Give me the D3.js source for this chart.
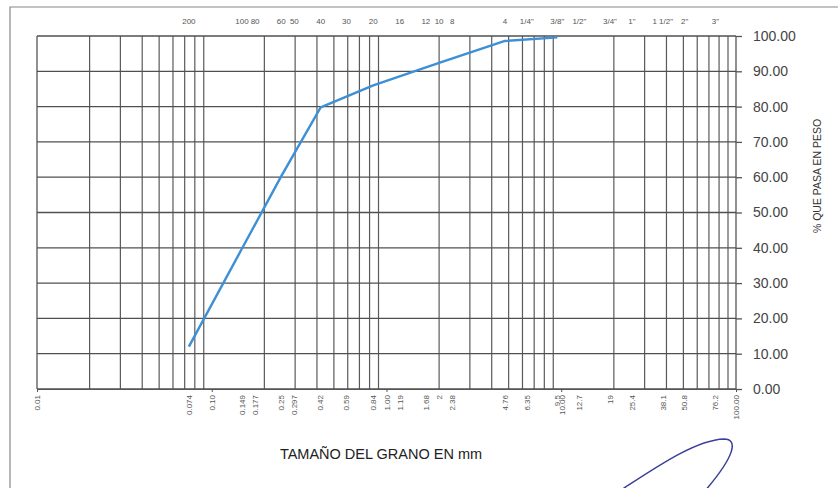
<!DOCTYPE html>
<html>
<head>
<meta charset="utf-8">
<script src="https://cdn.jsdelivr.net/npm/d3@7"></script>
<style>
  body { margin: 0; background: #fff; }
  text { font-family: "Liberation Sans", Arial, sans-serif; }
</style>
</head>
<body>
<script>
const w = 838;
const h = 488;
const margin = { left: 37, right: 102, top: 36, bottom: 99 };

// curva granulometrica
const sieveSizes = [0.074, 0.149, 0.25, 0.42, 0.84, 2.0, 4.76, 9.5];
const percentPassing = [12.0, 39.8, 60.3, 79.8, 86.0, 92.4, 98.6, 99.6];

// tamices (arriba) y aberturas en mm (abajo)
const sieveNames = ["200", "100", "80", "60", "50", "40", "30", "20", "16", "12", "10", "8",
                    "4", "1/4\"", "3/8\"", "1/2\"", "3/4\"", "1\"", "1 1/2\"", "2\"", "3\""];
const openings = [0.074, 0.149, 0.177, 0.25, 0.297, 0.42, 0.59, 0.84, 1.19, 1.68, 2, 2.38,
                  4.76, 6.35, 9.5, 12.7, 19, 25.4, 38.1, 50.8, 76.2];
const openingLabels = ["0.074", "0.149", "0.177", "0.25", "0.297", "0.42", "0.59", "0.84", "1.19", "1.68", "2", "2.38",
                       "4.76", "6.35", "9.5", "12.7", "19", "25.4", "38.1", "50.8", "76.2"];
const decadeTicks = [0.01, 0.1, 1, 10, 100];
const yTicks = [0, 10, 20, 30, 40, 50, 60, 70, 80, 90, 100];

const x = d3.scaleLog()
            .domain([0.01, 100])
            .range([margin.left, w - margin.right]);

const y = d3.scaleLinear()
            .domain([0, 100])
            .range([h - margin.bottom, margin.top]);

const svg = d3.select("body")
              .append("svg")
              .attr("width", w)
              .attr("height", h);

// marco de la hoja
svg.append("path")
   .attr("d", `M838,7 L10,7 L10,${h + 2}`)
   .attr("fill", "none")
   .attr("stroke", "#888")
   .attr("stroke-width", 1.2);

// lineas verticales 2..9 de cada decada
const minorLines = [];
[0.01, 0.1, 1, 10].forEach(dec => {
    for (let k = 2; k <= 9; k++) minorLines.push(dec * k);
});

svg.append("g")
   .selectAll("line")
   .data(minorLines)
   .enter()
   .append("line")
   .attr("x1", d => x(d)).attr("x2", d => x(d))
   .attr("y1", y(100)).attr("y2", y(0))
   .attr("stroke", "#5a5a5a")
   .attr("stroke-width", 1.2);

// bordes izquierdo y derecho
svg.append("g")
   .selectAll("line")
   .data([0.01, 100])
   .enter()
   .append("line")
   .attr("x1", d => x(d)).attr("x2", d => x(d))
   .attr("y1", y(100)).attr("y2", y(0))
   .attr("stroke", "#555")
   .attr("stroke-width", 1.3);

// eje derecho con lineas horizontales
const yAxis = d3.axisRight(y)
                .tickValues(yTicks)
                .tickSize(6)
                .tickFormat(d3.format(".2f"));

const gy = svg.append("g")
   .attr("transform", `translate(${x(100)},0)`)
   .call(yAxis);
gy.select(".domain").remove();
gy.selectAll(".tick line").attr("stroke", "#555").attr("stroke-width", 1.3);
gy.selectAll(".tick text")
  .attr("x", 17)
  .attr("font-size", 14)
  .attr("fill", "#444")
  .style("font-family", "'Liberation Sans', Arial, sans-serif");

svg.append("g")
   .selectAll("line")
   .data(yTicks)
   .enter()
   .append("line")
   .attr("x1", x(0.01)).attr("x2", x(100))
   .attr("y1", d => y(d)).attr("y2", d => y(d))
   .attr("stroke", "#505050")
   .attr("stroke-width", 1.3);

// eje inferior: decadas
const xAxis = d3.axisBottom(x)
                .tickValues(decadeTicks)
                .tickSize(3)
                .tickFormat(d3.format(".2f"));

const gx = svg.append("g")
   .attr("transform", `translate(0,${y(0)})`)
   .call(xAxis);
gx.select(".domain").attr("stroke", "#555");
gx.selectAll(".tick line").attr("stroke", "#555");
gx.selectAll(".tick text")
  .attr("font-size", 8)
  .attr("fill", "#555")
  .attr("transform", "rotate(-90)")
  .attr("text-anchor", "end")
  .attr("x", -6)
  .attr("y", 0)
  .attr("dy", "0.35em")
  .style("font-family", "'Liberation Sans', Arial, sans-serif");

// aberturas en mm
svg.append("g")
   .selectAll("text")
   .data(openings)
   .enter()
   .append("text")
   .attr("transform", d => `translate(${x(d)},${y(0) + 6}) rotate(-90)`)
   .attr("text-anchor", "end")
   .attr("dy", "0.35em")
   .attr("font-size", 8)
   .attr("fill", "#555")
   .text((d, i) => openingLabels[i]);

// numero de tamiz arriba
svg.append("g")
   .selectAll("text")
   .data(openings)
   .enter()
   .append("text")
   .attr("x", d => x(d))
   .attr("y", 24)
   .attr("text-anchor", "middle")
   .attr("font-size", 8)
   .attr("fill", "#555")
   .text((d, i) => sieveNames[i]);

// curva
const line = d3.line()
               .x(d => x(d[0]))
               .y(d => y(d[1]));

svg.append("path")
   .datum(sieveSizes.map((s, i) => [s, percentPassing[i]]))
   .attr("d", line)
   .attr("fill", "none")
   .attr("stroke", "#3d8fd6")
   .attr("stroke-width", 2.4)
   .attr("stroke-linejoin", "round");

// titulos
svg.append("text")
   .attr("x", 381)
   .attr("y", 459)
   .attr("text-anchor", "middle")
   .attr("font-size", 14.5)
   .attr("fill", "#222")
   .text("TAMAÑO DEL GRANO EN mm");

svg.append("text")
   .attr("transform", "translate(821,176) rotate(-90)")
   .attr("text-anchor", "middle")
   .attr("font-size", 10.5)
   .attr("fill", "#333")
   .text("% QUE PASA EN PESO");

// firma
svg.append("path")
   .attr("d", "M618,492 C655,468 695,440 724,439 C738,439 736,455 704,492")
   .attr("fill", "none")
   .attr("stroke", "#3a3f9a")
   .attr("stroke-width", 1.5);
</script>
</body>
</html>
